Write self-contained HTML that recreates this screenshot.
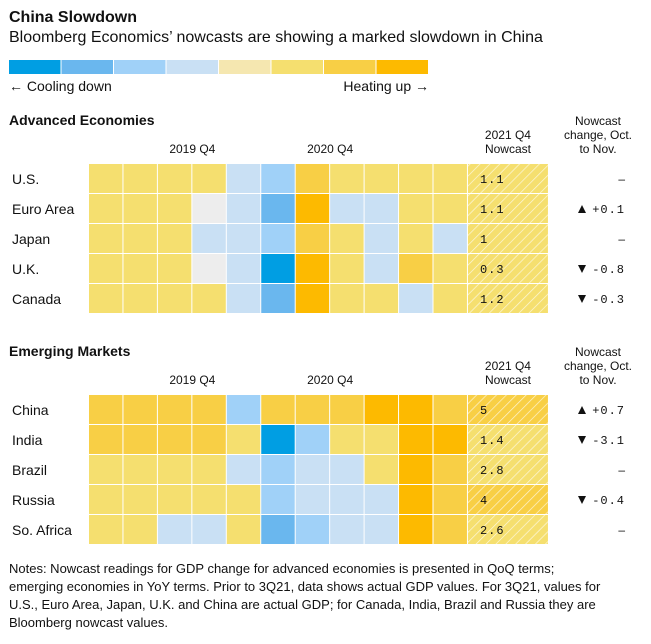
<!DOCTYPE html>
<html><head><meta charset="utf-8">
<style>
body{margin:0;background:#fff;width:651px;height:639px;overflow:hidden;font-family:"Liberation Sans",sans-serif;}
svg text{font-family:"Liberation Sans",sans-serif;fill:#111;}
.mono{font-family:"Liberation Mono",monospace;letter-spacing:1px;}
</style></head>
<body>
<svg id="chart" width="651" height="639" xmlns="http://www.w3.org/2000/svg">
<defs>
<pattern id="hatch" patternUnits="userSpaceOnUse" width="7" height="7" patternTransform="rotate(45)">
<line x1="0" y1="0" x2="0" y2="7" stroke="#fff" stroke-width="1.4" stroke-opacity="0.75"/>
</pattern>
</defs>
<text x="9" y="22" font-size="16" font-weight="bold">China Slowdown</text>
<text x="9" y="42" font-size="16">Bloomberg Economics’ nowcasts are showing a marked slowdown in China</text>
<g id="legend"></g>
<text x="9" y="91" font-size="14">← Cooling down</text>
<text x="429" y="91" font-size="14" text-anchor="end">Heating up →</text>

<text x="9" y="125" font-size="14" font-weight="bold">Advanced Economies</text>
<text x="9" y="356" font-size="14" font-weight="bold">Emerging Markets</text>
<g id="grids"></g>
<g font-size="13">
<text x="9" y="573">Notes: Nowcast readings for GDP change for advanced economies is presented in QoQ terms;</text>
<text x="9" y="591">emerging economies in YoY terms. Prior to 3Q21, data shows actual GDP values. For 3Q21, values for</text>
<text x="9" y="609">U.S., Euro Area, Japan, U.K. and China are actual GDP; for Canada, India, Brazil and Russia they are</text>
<text x="9" y="627">Bloomberg nowcast values.</text>
</g>
</svg>
<script>
// color scale levels: -1 = no data (gray), 0 = coolest ... 7 = hottest
const levelColors = ["#009ee3","#6ab7ee","#a0d1f8","#c9e0f4","#f5e7b0","#f5df6f","#f8cf45","#fdba00"];
const missingColor = "#ededed";

const advCountries = ["U.S.","Euro Area","Japan","U.K.","Canada"];
const advLevels = [
 [5,5,5,5,3,2,6,5,5,5,5],
 [5,5,5,-1,3,1,7,3,3,5,5],
 [5,5,5,3,3,2,6,5,3,5,3],
 [5,5,5,-1,3,0,7,5,3,6,5],
 [5,5,5,5,3,1,7,5,5,3,5]
];
const advNowcast = ["1.1","1.1","1","0.3","1.2"];
const advNowLevel = [5,5,5,5,5];
const advChange = ["–","+0.1","–","-0.8","-0.3"];

const emCountries = ["China","India","Brazil","Russia","So. Africa"];
const emLevels = [
 [6,6,6,6,2,6,6,6,7,7,6],
 [6,6,6,6,5,0,2,5,5,7,7],
 [5,5,5,5,3,2,3,3,5,7,6],
 [5,5,5,5,5,2,3,3,3,7,6],
 [5,5,3,3,5,1,2,3,3,7,6]
];
const emNowcast = ["5","1.4","2.8","4","2.6"];
const emNowLevel = [6,5,5,6,5];
const emChange = ["+0.7","-3.1","–","-0.4","–"];

const quarterLabels = ["2019 Q4","2020 Q4"];
const quarterCols = [3,7];

const NS="http://www.w3.org/2000/svg";
const svg=document.getElementById('chart');
function mk(tag,attrs,parent){const e=document.createElementNS(NS,tag);for(const k in attrs)e.setAttribute(k,attrs[k]);(parent||svg).appendChild(e);return e;}

// legend
const lg=document.getElementById('legend');
const lw=420/levelColors.length;
levelColors.forEach((c,i)=>{
 const r=mk('rect',{x:9+i*lw,y:60,width:lw-1,height:14,fill:c},lg);
 
 
});

const x0=89, cw=34.45, rh=30, nowW=80;
function colX(i){return x0+i*cw;}
function drawSection(top,countries,levels,nowcast,nowLevel,change,prefix){
 const g=mk('g',{},document.getElementById('grids'));
 
 
 quarterLabels.forEach((q,i)=>{
  const t=mk('text',{x:colX(quarterCols[i]),y:top-11,'font-size':12,'text-anchor':'middle'},g);
  t.textContent=q;
  
  
 });
 const nx=colX(11);
 [["2021 Q4",top-25],["Nowcast",top-11]].forEach(([s,y])=>{
  const t=mk('text',{x:nx+nowW/2,y:y,'font-size':12,'text-anchor':'middle'},g);
  t.textContent=s;
  
  
 });
 [["Nowcast",top-39],["change, Oct.",top-25],["to Nov.",top-11]].forEach(([s,y])=>{
  const t=mk('text',{x:598,y:y,'font-size':12,'text-anchor':'middle'},g);
  t.textContent=s;
  
  
 });
 countries.forEach((c,r)=>{
  const y=top+r*rh;
  const lab=mk('text',{x:12,y:y+20,'font-size':14},g);
  lab.textContent=c;
  
  
  levels[r].forEach((lv,i)=>{
   const cell=mk('rect',{x:colX(i),y:y,width:cw-1,height:rh-1,fill:lv<0?missingColor:levelColors[lv]},g);
   
   
  });
  const nc=mk('rect',{x:nx,y:y,width:nowW,height:rh-1,fill:levelColors[nowLevel[r]]},g);
  
  
  mk('rect',{x:nx,y:y,width:nowW,height:rh-1,fill:'url(#hatch)'},g);
  const nt=mk('text',{x:nx+12,y:y+19,'font-size':12,'class':'mono'},g);
  nt.textContent=nowcast[r];
  
  
  const ch=change[r];
  const ct=mk('text',{x:625,y:y+19,'font-size':12,'text-anchor':'end','class':ch==='–'?'':'mono'},g);
  ct.textContent=ch;
  
  
  if(ch!=='–'){
   const up=ch[0]==='+';
   const tx=582, ty=y+15;
   const tri=mk('path',{d:up?`M${tx-4},${ty+4}L${tx+4},${ty+4}L${tx},${ty-4}Z`:`M${tx-4},${ty-4}L${tx+4},${ty-4}L${tx},${ty+4}Z`,fill:'#111'},g);
   
   
  }
 });
}
drawSection(164,advCountries,advLevels,advNowcast,advNowLevel,advChange,'advanced');
drawSection(395,emCountries,emLevels,emNowcast,emNowLevel,emChange,'emerging');
</script>
</body></html>
